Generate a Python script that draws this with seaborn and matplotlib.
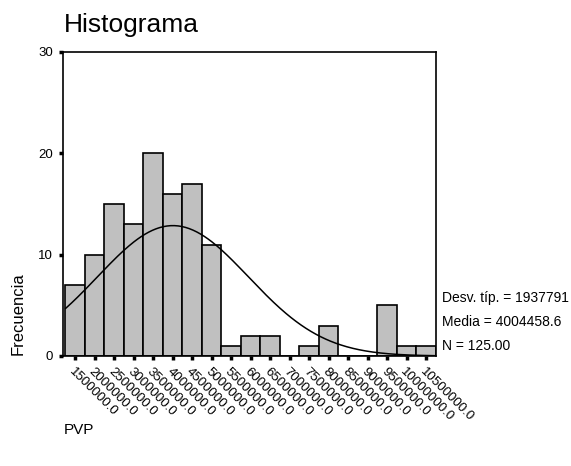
#!/usr/bin/env python3
"""Histograma de PVP con curva normal (estilo SPSS)"""

import numpy as np
import pandas as pd
import matplotlib
matplotlib.use('Agg')
import matplotlib.pyplot as plt
import matplotlib.transforms as mtransforms
import seaborn as sns

# datos
bin_centers = [1500000, 2000000, 2500000, 3000000, 3500000, 4000000, 4500000,
               5000000, 5500000, 6000000, 6500000, 7000000, 7500000, 8000000,
               8500000, 9000000, 9500000, 10000000, 10500000]
counts = [7, 10, 15, 13, 20, 16, 17, 11, 1, 2, 2, 0, 1, 3, 0, 0, 5, 1, 1]
bin_width = 500000

std_dev = 1937791
mean = 4004458.6
n_total = 125

y_ticks = [0, 10, 20, 30]

sns.set_style('ticks')
plt.rcParams['font.family'] = ['Liberation Sans', 'DejaVu Sans']
plt.rcParams['text.color'] = 'black'
plt.rcParams['xtick.color'] = 'black'
plt.rcParams['ytick.color'] = 'black'
plt.rcParams['axes.edgecolor'] = 'black'

df = pd.DataFrame({'PVP': bin_centers, 'Frecuencia': counts})
edges = [c - bin_width / 2 for c in bin_centers] + [bin_centers[-1] + bin_width / 2]

fig = plt.figure(figsize=(5.71, 4.66), dpi=100)
ax = fig.add_axes([63 / 571, 1 - 356 / 466, 373 / 571, 304 / 466])

sns.histplot(data=df, x='PVP', weights='Frecuencia', bins=edges,
             color='#c0c0c0', alpha=1.0, edgecolor='black', linewidth=1.2, ax=ax)

# curva normal
xs = np.linspace(edges[0], edges[-1], 300)
ys = n_total * bin_width / (std_dev * np.sqrt(2 * np.pi)) * np.exp(-0.5 * ((xs - mean) / std_dev) ** 2)
sns.lineplot(x=xs, y=ys, color='black', linewidth=1.1, ax=ax)

ax.set_xlim(edges[0] - 64000, edges[-1])
ax.set_ylim(0, 30)
ax.set_yticks(y_ticks)
ax.set_yticklabels([str(t) for t in y_ticks], fontsize=9.5)
ax.set_xticks(bin_centers)
ax.set_xticklabels([f'{c:.1f}' for c in bin_centers], fontsize=9.5,
                   rotation=-45, ha='left', va='top', rotation_mode='anchor')
shift = mtransforms.ScaledTranslation(0.06, 0, fig.dpi_scale_trans)
for lab in ax.get_xticklabels():
    lab.set_transform(lab.get_transform() + shift)
ax.tick_params(axis='both', length=3, width=2.5, direction='out', pad=4)
ax.set_xlabel('')
ax.set_ylabel('')
for sp in ax.spines.values():
    sp.set_visible(True)
    sp.set_linewidth(1.2)

fig.text(64 / 571, 1 - 32 / 466, 'Histograma', fontsize=19, ha='left', va='baseline')
fig.text(18 / 571, 1 - 355 / 466, 'Frecuencia', fontsize=12, rotation=90,
         ha='center', va='bottom')
fig.text(64 / 571, 1 - 430 / 466, 'PVP', fontsize=11, ha='left', va='center')

stats_lines = [f'Desv. típ. = {std_dev}', f'Media = {mean}', f'N = {n_total:.2f}']
for i, line in enumerate(stats_lines):
    fig.text(442 / 571, 1 - (298 + 24 * i) / 466, line, fontsize=10, ha='left', va='center')

fig.savefig('out.png', dpi=100)
